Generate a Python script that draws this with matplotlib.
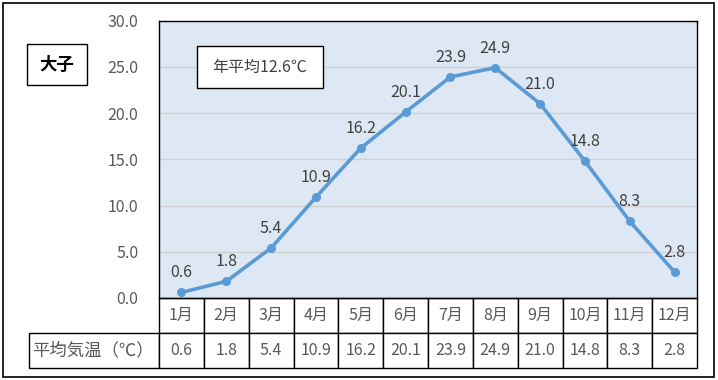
import matplotlib
matplotlib.use("Agg")
import matplotlib.pyplot as plt
from matplotlib.patches import Rectangle

plt.rcParams['font.family'] = ['Noto Sans CJK JP', 'DejaVu Sans']

months = ['1月', '2月', '3月', '4月', '5月', '6月', '7月', '8月', '9月', '10月', '11月', '12月']
temps = [0.6, 1.8, 5.4, 10.9, 16.2, 20.1, 23.9, 24.9, 21.0, 14.8, 8.3, 2.8]
yticks = [0, 5, 10, 15, 20, 25, 30]
row_label = '平均気温（℃）'
station = '大子'
annual_note = '年平均12.6℃'

W, H = 718, 380
fig = plt.figure(figsize=(W / 100, H / 100), dpi=100)

# outer frame
fig.patches.append(Rectangle((2.5 / W, 1 - 376.5 / H), (714 - 2.5) / W, (376.5 - 2.5) / H,
                             transform=fig.transFigure, fill=False, edgecolor='black', linewidth=1.2))

L, R, T, B = 159, 697, 20.5, 298
ax = fig.add_axes([L / W, 1 - B / H, (R - L) / W, (B - T) / H])
ax.set_facecolor('#DDE8F4')
x = list(range(len(months)))
ax.plot(x, temps, color='#5B9BD5', linewidth=2.6, marker='o', markersize=5.5, zorder=3, clip_on=False)
for xi, v in zip(x, temps):
    ax.annotate(f'{v:.1f}', (xi, v), xytext=(0, 8), textcoords='offset points',
                ha='center', va='bottom', fontsize=11.5, color='#404040')

ax.set_xlim(-0.5, len(months) - 0.5)
ax.set_ylim(0, 30)
ax.set_yticks(yticks)
ax.set_yticklabels([f'{t:.1f}' for t in yticks], fontsize=11.5, color='#595959')
ax.tick_params(axis='y', length=0, pad=15)
ax.set_xticks([])
ax.grid(axis='y', color='#D0D0D0', linewidth=1)
ax.set_axisbelow(True)
for s in ax.spines.values():
    s.set_color('black')
    s.set_linewidth(1)

# table
hdr_w = 130
cw = (R - L) / len(months)
tot_w = hdr_w + (R - L)
cell_text = [[''] + months, [row_label] + [f'{v:.1f}' for v in temps]]
col_widths = [hdr_w / tot_w] + [cw / tot_w] * len(months)
tbl = ax.table(cellText=cell_text, colWidths=col_widths, cellLoc='center',
               bbox=[-hdr_w / (R - L), -70 / (B - T), tot_w / (R - L), 70 / (B - T)])
tbl.auto_set_font_size(False)
for (r, c), cell in tbl.get_celld().items():
    cell.set_edgecolor('black')
    cell.set_linewidth(1)
    cell.set_facecolor('white')
    t = cell.get_text()
    t.set_fontsize(11.5)
    t.set_color('#595959')
    if r == 0 and c == 0:
        cell.visible_edges = ''
        cell.set_facecolor('none')
    if r == 1 and c == 0:
        t.set_ha('left')
        t.set_fontsize(12.5)
        cell.PAD = 0.02

# station label box
fig.patches.append(Rectangle((27 / W, 1 - 85 / H), 60 / W, 41 / H, transform=fig.transFigure,
                             fill=True, facecolor='white', edgecolor='black', linewidth=1))
fig.text(57 / W, 1 - 64.5 / H, station, ha='center', va='center', fontsize=12.5, fontweight='bold',
         color='black')

# annual note box
fig.patches.append(Rectangle((197 / W, 1 - 88 / H), 126 / W, 42 / H, transform=fig.transFigure,
                             fill=True, facecolor='white', edgecolor='black', linewidth=1, zorder=5))
fig.text(260 / W, 1 - 67 / H, annual_note, ha='center', va='center', fontsize=11.5,
         color='#404040', zorder=6)

fig.savefig('out.png', dpi=100)
